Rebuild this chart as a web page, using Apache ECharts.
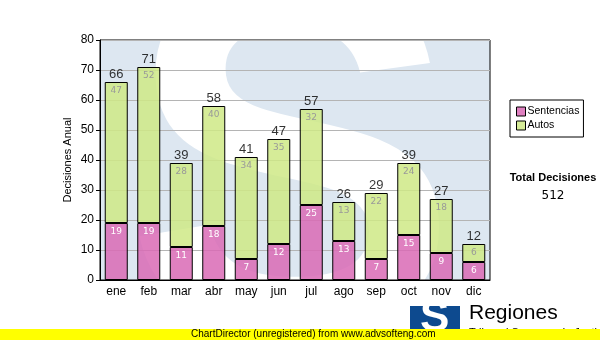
<!DOCTYPE html>
<html>
<head>
<meta charset="utf-8">
<script src="https://cdn.jsdelivr.net/npm/echarts@6/dist/echarts.min.js"></script>
<style>
  html, body { margin: 0; padding: 0; background: #fff; }
  #chart { width: 600px; height: 340px; }
</style>
</head>
<body>
<div id="chart"></div>
<script>
// Monthly decisions, split by type
const months = ['ene', 'feb', 'mar', 'abr', 'may', 'jun', 'jul', 'ago', 'sep', 'oct', 'nov', 'dic'];
const sentencias = [19, 19, 11, 18, 7, 12, 25, 13, 7, 15, 9, 6];
const autos = [47, 52, 28, 40, 34, 35, 32, 13, 22, 24, 18, 6];
const totals = months.map((m, i) => sentencias[i] + autos[i]);
const grandTotal = totals.reduce((a, b) => a + b, 0);
const yTicks = [0, 10, 20, 30, 40, 50, 60, 70, 80];

const pink = 'rgba(217,106,181,0.85)';
const green = 'rgba(207,233,134,0.85)';

const chart = echarts.init(document.getElementById('chart'), null, { renderer: 'canvas' });

const grid = { left: 100, right: 110, top: 40, bottom: 60 };

chart.setOption({
  animation: false,
  textStyle: { fontFamily: 'Liberation Sans, Arial, sans-serif' },
  grid: Object.assign({ show: true, borderColor: '#000', borderWidth: 1, backgroundColor: 'transparent' }, grid),
  graphic: [
    // plot backdrop with the large logo letter behind the bars
    { type: 'rect', z: -20, silent: true,
      shape: { x: grid.left, y: grid.top, width: 600 - grid.left - grid.right, height: 340 - grid.top - grid.bottom },
      style: { fill: '#dde7f1' } },
    { type: 'text', z: -19, silent: true, left: 125, top: -62,
      style: { text: 'S', fill: '#ffffff', font: 'bold 500px "Liberation Sans", Arial, sans-serif' } },
    // cover the letter outside the plot area
    { type: 'rect', z: -18, silent: true, shape: { x: 0, y: 0, width: 600, height: grid.top }, style: { fill: '#fff' } },
    { type: 'rect', z: -18, silent: true, shape: { x: 0, y: 340 - grid.bottom, width: 600, height: grid.bottom }, style: { fill: '#fff' } },
    { type: 'rect', z: -18, silent: true, shape: { x: 0, y: 0, width: grid.left, height: 340 }, style: { fill: '#fff' } },
    { type: 'rect', z: -18, silent: true, shape: { x: 600 - grid.right, y: 0, width: grid.right, height: 340 }, style: { fill: '#fff' } },

    // total summary
    { type: 'text', x: 553, y: 172,
      style: { text: 'Total Decisiones', fill: '#000', textAlign: 'center',
               font: 'bold 11px "Liberation Sans", Arial, sans-serif' } },
    { type: 'text', x: 553, y: 190,
      style: { text: String(grandTotal), fill: '#000', textAlign: 'center',
               font: '12px "DejaVu Sans", Verdana, sans-serif' } },

    // logo
    { type: 'rect', shape: { x: 410, y: 306, width: 50, height: 34 }, style: { fill: '#0d4a8f' } },
    { type: 'text', left: 420, top: 297,
      style: { text: 'S', fill: '#fff', font: 'bold 44px "Liberation Sans", Arial, sans-serif' } },
    { type: 'text', left: 469, top: 303,
      style: { text: 'Regiones', fill: '#000', font: '21px "Liberation Sans", Arial, sans-serif' } },
    { type: 'text', left: 469, top: 327,
      style: { text: 'Tribunal Supremo de Justicia', fill: '#000', font: '11px "Liberation Sans", Arial, sans-serif' } },

    // footer band
    { type: 'rect', shape: { x: 0, y: 329, width: 600, height: 11 }, style: { fill: '#ffff00' }, z: 10 },
    { type: 'text', z: 11, left: 191, top: 329,
      style: { text: 'ChartDirector (unregistered) from www.advsofteng.com', fill: '#000', font: '10px "Liberation Sans", Arial, sans-serif' } }
  ],
  legend: {
    orient: 'vertical',
    left: 510, top: 100,
    padding: [6, 4, 6, 6],
    itemGap: 3,
    borderColor: '#000', borderWidth: 1,
    backgroundColor: '#fff',
    itemWidth: 9, itemHeight: 9,
    icon: 'rect',
    itemStyle: { borderColor: '#000', borderWidth: 1 },
    textStyle: { fontFamily: '"Liberation Sans", Arial, sans-serif', fontSize: 10.5, color: '#000', padding: [0, 0, 0, -3] },
    data: ['Sentencias', 'Autos']
  },
  xAxis: {
    type: 'category',
    data: months,
    axisLine: { lineStyle: { color: '#000', width: 1 } },
    axisTick: { alignWithLabel: true, length: 4, lineStyle: { color: '#000' } },
    axisLabel: { color: '#000', fontSize: 12, margin: 6 }
  },
  yAxis: {
    type: 'value',
    min: yTicks[0], max: yTicks[yTicks.length - 1], interval: 10,
    name: 'Decisiones Anual',
    nameLocation: 'middle',
    nameGap: 27,
    nameMoveOverlap: false,
    nameRotate: 90,
    nameTextStyle: { color: '#000', fontSize: 11, fontFamily: '"Liberation Sans", Arial, sans-serif' },
    axisLine: { show: true, lineStyle: { color: '#000', width: 1 } },
    axisTick: { show: true, length: 4, lineStyle: { color: '#000' } },
    axisLabel: { color: '#000', fontSize: 12, margin: 6 },
    splitLine: { lineStyle: { color: '#b4b4b4', width: 1 } }
  },
  series: [
    {
      name: 'Sentencias', type: 'bar', stack: 'total', barWidth: 23,
      data: sentencias,
      itemStyle: { color: pink, borderColor: '#000', borderWidth: 1 },
      label: { show: true, position: 'insideTop', distance: 4, color: '#fff',
               fontSize: 9, fontFamily: '"DejaVu Sans", Verdana, sans-serif' }
    },
    {
      name: 'Autos', type: 'bar', stack: 'total', barWidth: 23,
      data: autos,
      itemStyle: { color: green, borderColor: '#000', borderWidth: 1 },
      label: { show: true, position: 'insideTop', distance: 4, color: '#999',
               fontSize: 9, fontFamily: '"DejaVu Sans", Verdana, sans-serif' }
    },
    {
      name: 'Total', type: 'scatter', data: totals,
      symbol: 'circle', symbolSize: 1, itemStyle: { color: 'rgba(0,0,0,0)' }, silent: true,
      label: { show: true, position: 'top', distance: 1, color: '#000', fontSize: 13 },
      z: 5
    }
  ]
});
</script>
</body>
</html>
